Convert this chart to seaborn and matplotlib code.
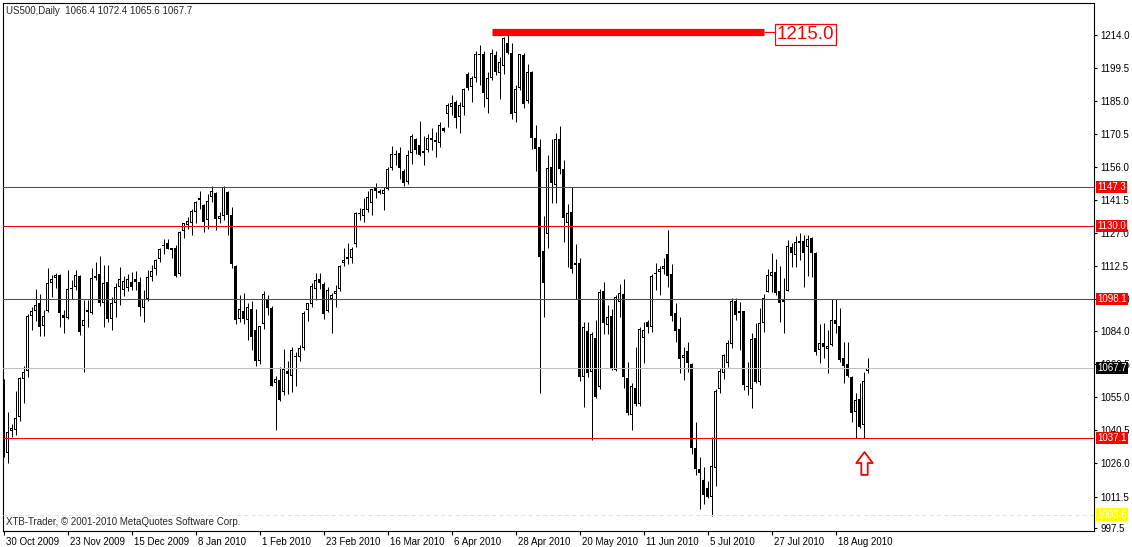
import numpy as np
import pandas as pd
import matplotlib
matplotlib.use("Agg")
import matplotlib.pyplot as plt
import matplotlib.transforms as mtransforms
from matplotlib.path import Path
import seaborn as sns

# daily bars US500, 30 Oct 2009 .. 30 Aug 2010 (one bar per trading session)
opens = [
    1062.1, 1030.4, 1040.2, 1040.7, 1046.2, 1062.9, 1066.7, 1090.6, 1092.8, 1096.2,
    1086.2, 1092.8, 1104.9, 1107.1, 1108.6, 1090.9, 1089.6, 1102.3, 1103.5, 1108.2,
    1086.2, 1093.3, 1091.8, 1107.4, 1109.0, 1096.5, 1105.4, 1089.2, 1096.2, 1103.5,
    1101.8, 1103.0, 1105.7, 1107.0, 1105.5, 1094.0, 1097.9, 1107.6, 1111.0, 1115.5,
    1121.5, 1122.6, 1119.5, 1120.6, 1109.0, 1127.7, 1130.7, 1131.3, 1136.0, 1141.5,
    1139.3, 1132.8, 1142.7, 1144.7, 1133.0, 1134.5, 1145.0, 1135.0, 1112.5, 1089.4,
    1092.8, 1088.9, 1093.9, 1084.6, 1070.9, 1087.1, 1097.7, 1094.3, 1061.1, 1062.5,
    1057.1, 1066.7, 1064.1, 1073.0, 1072.5, 1076.5, 1093.1, 1096.0, 1102.5, 1107.0,
    1104.5, 1092.9, 1098.2, 1100.1, 1102.4, 1114.0, 1116.4, 1116.1, 1122.1, 1135.4,
    1134.6, 1137.2, 1140.0, 1147.2, 1145.5, 1144.0, 1146.3, 1155.4, 1161.6, 1162.2,
    1154.0, 1149.5, 1162.0, 1168.2, 1165.5, 1163.1, 1163.2, 1168.5, 1167.8, 1166.3,
    1172.9, 1179.0, 1182.4, 1184.3, 1177.7, 1182.4, 1196.6, 1191.2, 1194.8, 1205.5,
    1205.3, 1185.8, 1194.8, 1205.0, 1197.0, 1200.4, 1210.2, 1205.8, 1179.5, 1190.4,
    1204.8, 1184.9, 1197.5, 1168.5, 1164.6, 1119.1, 1126.4, 1155.8, 1148.0, 1168.0,
    1154.9, 1131.2, 1136.0, 1112.8, 1113.7, 1063.7, 1084.0, 1065.9, 1080.8, 1059.4,
    1101.6, 1086.5, 1090.6, 1066.9, 1096.6, 1100.1, 1063.3, 1047.2, 1058.9, 1052.1,
    1080.8, 1087.8, 1085.7, 1109.0, 1110.0, 1111.2, 1117.8, 1108.9, 1092.1, 1084.8,
    1072.4, 1075.3, 1069.4, 1032.6, 1023.5, 1018.6, 1015.1, 1011.4, 1024.1, 1058.5,
    1065.5, 1070.2, 1078.2, 1097.2, 1091.8, 1092.8, 1060.0, 1058.5, 1080.8, 1061.8,
    1087.4, 1101.3, 1108.2, 1110.1, 1101.7, 1096.9, 1101.7, 1121.0, 1117.4, 1123.6,
    1123.6, 1120.7, 1124.7, 1118.4, 1075.7, 1078.6, 1076.0, 1077.9, 1088.9, 1086.2,
    1072.0, 1069.6, 1064.0, 1048.7, 1054.1, 1042.8, 1066.4,
]
highs = [
    1063.0, 1048.4, 1043.3, 1057.8, 1063.8, 1068.7, 1091.5, 1094.7, 1102.3, 1100.3,
    1093.3, 1111.5, 1108.6, 1109.6, 1108.9, 1093.3, 1110.8, 1106.4, 1110.8, 1108.6,
    1097.6, 1097.6, 1111.5, 1114.4, 1116.9, 1113.0, 1113.0, 1098.8, 1105.0, 1112.2,
    1108.0, 1109.0, 1110.0, 1110.5, 1107.9, 1102.0, 1110.8, 1113.0, 1115.8, 1120.5,
    1124.4, 1124.4, 1120.4, 1121.6, 1128.0, 1131.6, 1134.2, 1137.5, 1141.0, 1145.2,
    1139.5, 1143.9, 1147.4, 1144.9, 1136.0, 1147.4, 1145.5, 1138.6, 1112.8, 1100.0,
    1100.7, 1096.5, 1097.2, 1093.5, 1086.4, 1101.7, 1099.7, 1094.8, 1064.1, 1068.2,
    1076.3, 1070.7, 1077.0, 1074.8, 1078.0, 1092.7, 1096.5, 1105.2, 1109.4, 1109.3,
    1105.6, 1103.4, 1100.5, 1104.2, 1113.1, 1120.5, 1122.6, 1120.7, 1136.4, 1138.1,
    1142.4, 1145.3, 1146.2, 1148.9, 1146.5, 1147.0, 1155.8, 1165.3, 1163.3, 1164.7,
    1155.0, 1163.3, 1170.2, 1168.5, 1176.2, 1169.4, 1170.4, 1172.9, 1171.4, 1175.8,
    1173.6, 1183.9, 1187.5, 1185.3, 1184.6, 1190.7, 1197.7, 1196.0, 1206.8, 1209.4,
    1206.8, 1197.7, 1207.7, 1206.8, 1204.3, 1213.1, 1215.3, 1210.2, 1191.9, 1205.6,
    1205.8, 1201.0, 1197.8, 1174.3, 1168.0, 1134.5, 1161.2, 1168.0, 1170.7, 1173.9,
    1159.0, 1139.7, 1147.0, 1122.2, 1115.9, 1088.1, 1088.1, 1083.8, 1088.9, 1102.3,
    1105.4, 1095.4, 1093.5, 1099.8, 1104.6, 1106.7, 1070.6, 1061.1, 1077.2, 1086.0,
    1088.0, 1088.8, 1109.0, 1113.7, 1112.7, 1116.0, 1128.3, 1113.5, 1096.2, 1090.0,
    1077.2, 1079.2, 1070.0, 1044.0, 1029.0, 1024.6, 1018.3, 1037.4, 1058.7, 1067.7,
    1074.0, 1080.0, 1098.4, 1098.4, 1096.9, 1093.0, 1070.6, 1083.0, 1087.4, 1094.0,
    1100.3, 1111.0, 1118.4, 1115.5, 1112.5, 1107.1, 1123.9, 1122.5, 1125.7, 1126.9,
    1126.1, 1126.1, 1125.4, 1118.8, 1087.1, 1087.4, 1084.5, 1097.9, 1097.9, 1094.0,
    1079.4, 1079.4, 1064.2, 1056.9, 1061.1, 1066.2, 1072.4,
]
lows = [
    1029.0, 1026.0, 1037.7, 1038.5, 1044.5, 1052.6, 1064.0, 1084.5, 1088.6, 1081.9,
    1081.9, 1092.5, 1099.1, 1103.0, 1085.9, 1083.0, 1089.2, 1098.0, 1102.0, 1082.3,
    1066.2, 1086.0, 1091.5, 1106.4, 1095.0, 1085.9, 1088.2, 1084.5, 1090.0, 1095.5,
    1099.5, 1101.5, 1102.0, 1102.0, 1090.5, 1088.1, 1097.0, 1106.0, 1108.5, 1114.5,
    1118.0, 1120.1, 1115.9, 1107.5, 1108.0, 1124.7, 1128.9, 1126.3, 1131.5, 1137.5,
    1127.3, 1128.7, 1140.8, 1128.4, 1131.5, 1132.5, 1126.3, 1111.8, 1087.2, 1088.0,
    1086.9, 1080.1, 1075.5, 1068.6, 1069.5, 1085.0, 1091.0, 1059.8, 1040.5, 1053.5,
    1056.0, 1056.3, 1057.1, 1060.0, 1071.0, 1075.5, 1088.4, 1094.5, 1097.8, 1102.4,
    1089.2, 1092.5, 1083.0, 1094.6, 1101.5, 1112.5, 1113.6, 1113.7, 1121.0, 1132.8,
    1131.9, 1136.0, 1135.0, 1142.5, 1144.0, 1137.0, 1145.9, 1154.5, 1156.7, 1150.8,
    1147.5, 1148.4, 1157.3, 1161.5, 1160.6, 1157.0, 1162.5, 1163.4, 1160.5, 1164.9,
    1171.2, 1173.6, 1178.8, 1172.9, 1170.7, 1178.8, 1189.7, 1184.3, 1193.4, 1192.0,
    1182.4, 1179.5, 1194.1, 1196.3, 1185.8, 1196.6, 1205.3, 1177.0, 1175.8, 1189.7,
    1182.0, 1183.9, 1163.9, 1154.3, 1057.0, 1090.3, 1120.6, 1140.0, 1140.3, 1152.9,
    1123.2, 1112.3, 1109.3, 1097.9, 1062.3, 1050.9, 1064.0, 1036.3, 1054.5, 1058.5,
    1082.6, 1082.6, 1066.9, 1066.6, 1090.3, 1058.9, 1047.2, 1040.7, 1051.2, 1051.0,
    1069.9, 1083.0, 1083.5, 1102.0, 1099.8, 1108.9, 1103.2, 1088.6, 1079.4, 1065.8,
    1062.6, 1066.2, 1030.0, 1020.9, 1005.9, 1008.2, 1011.0, 1003.1, 1016.1, 1057.0,
    1063.0, 1068.4, 1076.4, 1088.9, 1075.7, 1058.2, 1056.0, 1050.1, 1061.1, 1060.4,
    1083.7, 1101.0, 1101.3, 1099.8, 1088.1, 1083.0, 1101.5, 1112.2, 1112.2, 1115.2,
    1103.5, 1108.2, 1107.9, 1073.5, 1069.9, 1072.1, 1065.8, 1077.5, 1083.3, 1070.6,
    1061.1, 1064.0, 1044.3, 1037.0, 1041.4, 1037.0, 1065.6,
]
closes = [
    1031.9, 1039.9, 1041.4, 1045.8, 1063.3, 1065.9, 1090.6, 1093.0, 1095.4, 1085.7,
    1090.8, 1104.9, 1106.7, 1108.6, 1091.8, 1089.6, 1102.3, 1103.0, 1108.6, 1083.8,
    1088.9, 1092.4, 1107.1, 1108.2, 1096.2, 1104.9, 1089.2, 1096.5, 1103.2, 1106.7,
    1106.0, 1107.0, 1103.5, 1105.5, 1094.4, 1097.9, 1107.6, 1110.5, 1115.2, 1120.0,
    1121.8, 1120.2, 1120.4, 1108.2, 1127.5, 1131.5, 1132.1, 1136.7, 1140.5, 1142.5,
    1131.7, 1141.2, 1145.5, 1133.0, 1134.5, 1147.0, 1135.0, 1113.5, 1088.8, 1093.8,
    1089.2, 1094.5, 1081.5, 1070.9, 1086.2, 1100.3, 1094.3, 1060.1, 1063.2, 1053.7,
    1067.5, 1065.1, 1075.5, 1072.5, 1076.5, 1091.9, 1096.5, 1103.8, 1106.2, 1105.0,
    1091.6, 1102.2, 1099.9, 1101.5, 1112.7, 1115.3, 1115.8, 1120.0, 1135.7, 1135.5,
    1137.4, 1142.6, 1146.2, 1145.5, 1144.5, 1146.0, 1155.0, 1161.7, 1161.3, 1155.4,
    1149.0, 1161.3, 1169.7, 1163.2, 1161.2, 1162.1, 1168.7, 1167.8, 1166.8, 1174.4,
    1171.5, 1183.1, 1183.9, 1177.3, 1183.1, 1190.1, 1190.7, 1195.1, 1205.3, 1205.0,
    1188.2, 1194.8, 1205.8, 1197.7, 1201.8, 1212.4, 1205.8, 1179.0, 1190.1, 1205.3,
    1183.5, 1197.5, 1168.5, 1163.9, 1116.3, 1105.2, 1155.3, 1149.1, 1168.0, 1154.9,
    1133.4, 1135.6, 1111.1, 1113.7, 1064.0, 1085.7, 1065.5, 1082.6, 1055.3, 1101.0,
    1087.7, 1090.0, 1067.2, 1098.8, 1100.6, 1064.0, 1048.0, 1059.9, 1052.1, 1084.8,
    1084.5, 1085.7, 1108.0, 1109.6, 1111.0, 1112.5, 1108.2, 1090.8, 1084.2, 1071.9,
    1073.5, 1070.2, 1032.9, 1023.4, 1022.0, 1012.2, 1011.4, 1024.9, 1057.8, 1066.7,
    1073.5, 1078.6, 1097.2, 1090.9, 1093.0, 1060.4, 1059.4, 1080.4, 1061.8, 1087.4,
    1098.4, 1108.6, 1110.1, 1100.9, 1096.2, 1097.6, 1121.3, 1118.1, 1123.2, 1122.8,
    1118.1, 1124.2, 1118.4, 1075.0, 1078.9, 1076.9, 1077.5, 1088.9, 1087.1, 1071.3,
    1068.7, 1064.3, 1048.0, 1053.8, 1042.1, 1062.3, 1067.7,
]

date_labels = ["30 Oct 2009", "23 Nov 2009", "15 Dec 2009", "8 Jan 2010", "1 Feb 2010",
               "23 Feb 2010", "16 Mar 2010", "6 Apr 2010", "28 Apr 2010", "20 May 2010",
               "11 Jun 2010", "5 Jul 2010", "27 Jul 2010", "18 Aug 2010"]
bars_per_label = 16

price_ticks = [997.5, 1011.5, 1026.0, 1040.5, 1055.0, 1069.5, 1084.0, 1098.0,
               1112.5, 1127.0, 1141.5, 1156.0, 1170.5, 1185.0, 1199.5, 1214.0]

red_levels = [1147.3, 1130.0, 1098.1, 1037.1]
bid_level = 1067.7
ask_level = 1003.6

# thick resistance segment (bar index from, bar index to, price)
top_start, top_end, top_level = 122, 190, 1215.0
arrow_bar, arrow_price = 215, 1026.0

df = pd.DataFrame({"open": opens, "high": highs, "low": lows, "close": closes})
df["bar"] = np.arange(len(df))
df["up"] = df["close"] >= df["open"]

sns.set_style("white")
plt.rcParams["font.family"] = ["Liberation Sans", "DejaVu Sans"]

W, H = 1132, 547
fig = plt.figure(figsize=(W / 100, H / 100), dpi=100)
ax = fig.add_axes([2.5 / W, 16 / H, 1091 / W, 528.5 / H])
ax.set_xlim(-0.25, 272.5)
ax.set_ylim(996.38, 1228.03)
px = (1228.03 - 996.38) / 528.5   # price units per pixel

# candles: wick, 3px black body, 1px white core for rising bars
body_lo = df[["open", "close"]].min(axis=1)
body_h = (df["close"] - df["open"]).abs().clip(lower=px)
ax.vlines(df["bar"], df["low"], df["high"], color="black", lw=0.72, zorder=2)
ax.bar(df["bar"], body_h, bottom=body_lo, width=0.75, color="black", lw=0, zorder=3)
core = df["up"] & (body_h > 2.2 * px)
ax.bar(df.loc[core, "bar"], body_h[core] - 2 * px, bottom=body_lo[core] + px,
       width=0.25, color="white", lw=0, zorder=3.5)

# horizontal levels
for lv in red_levels:
    ax.axhline(lv, color="#ff0000", lw=0.75, zorder=4)
ax.axhline(bid_level, color="#c0c0c0", lw=0.75, zorder=4)
ax.axhline(ask_level, color="#ffff00", lw=0.75, ls=(0, (4, 3)), zorder=4)

# 1215 resistance line with its label
ax.hlines(top_level, top_start, top_end, color="#ff0000", lw=5.2, zorder=5)
ax.hlines(top_level, top_end, top_end + 3, color="#ff0000", lw=0.8, zorder=5)
down2 = mtransforms.ScaledTranslation(0, -2 / 100, fig.dpi_scale_trans)
ax.text(top_end + 3.3, top_level, f"{top_level:.1f}", color="#ff0000", fontsize=13.5,
        ha="left", va="center", zorder=6, transform=ax.transData + down2,
        bbox=dict(boxstyle="square,pad=0.1", fc="white", ec="#ff0000", lw=0.9))

# up arrow marker under the last bars
arrow = Path([(-0.36, 0.02), (0.0, 0.5), (0.36, 0.02), (0.14, 0.02), (0.14, -0.5),
              (-0.14, -0.5), (-0.14, 0.02), (-0.36, 0.02)],
             [Path.MOVETO] + [Path.LINETO] * 6 + [Path.CLOSEPOLY])
ax.plot([arrow_bar], [arrow_price], marker=arrow, markersize=16.5, mfc="white",
        mec="#ff0000", mew=1.3, ls="none", zorder=6)

# axes look
for sp in ax.spines.values():
    sp.set_color("black")
    sp.set_linewidth(0.8)
ax.yaxis.tick_right()
ax.set_yticks(price_ticks)
ax.set_yticklabels([f"{v:.1f}" for v in price_ticks])
ax.tick_params(axis="y", right=True, left=False, direction="out", length=2.4,
               width=0.8, pad=2.5, labelsize=7, colors="black")
ax.set_xticks(np.arange(len(date_labels)) * bars_per_label)
ax.set_xticklabels(date_labels)
ax.tick_params(axis="x", bottom=True, direction="out", length=2.9, width=0.8,
               pad=1.5, labelsize=7, colors="black")
shift = mtransforms.ScaledTranslation(2 / 100, 0, fig.dpi_scale_trans)
for lbl in ax.get_xticklabels():
    lbl.set_ha("left")
    lbl.set_transform(lbl.get_transform() + shift)

# price boxes on the right scale
yblend = mtransforms.blended_transform_factory(ax.transAxes, ax.transData)
boxes = [(lv, "#ff0000") for lv in red_levels] + [(bid_level, "black"), (ask_level, "#ffff00")]
for lv, c in boxes:
    ax.text(1.0032, lv, f"{lv:.1f}", transform=yblend, color="white", fontsize=7,
            ha="left", va="center", zorder=7, clip_on=False,
            bbox=dict(boxstyle="square,pad=0.12", fc=c, ec="none"))

ax.text(0.0032, 0.984, "US500,Daily  1066.4 1072.4 1065.6 1067.7", transform=ax.transAxes,
        fontsize=7, ha="left", va="center")
ax.text(0.0032, 0.017, "XTB-Trader, \u00a9 2001-2010 MetaQuotes Software Corp.",
        transform=ax.transAxes, fontsize=7, ha="left", va="center")

fig.savefig("out.png", dpi=100, facecolor="white")
